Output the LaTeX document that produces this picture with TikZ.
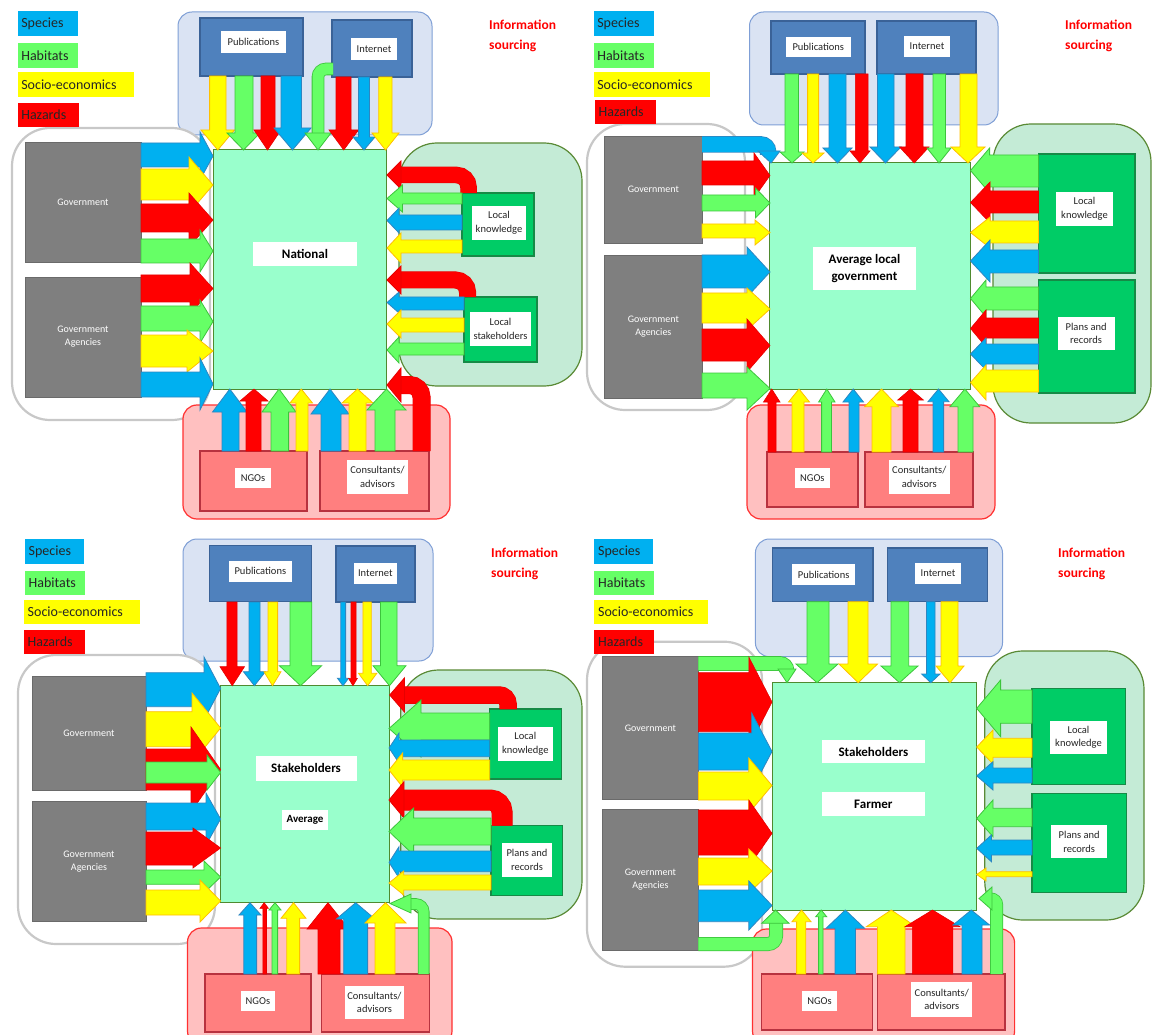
\documentclass[tikz,border=0pt]{standalone}
\usepackage{fontspec}
\setmainfont{Carlito}
\definecolor{cB}{HTML}{00B0F0}
\definecolor{cBd}{HTML}{2E86C1}
\definecolor{cG}{HTML}{66FF66}
\definecolor{cGd}{HTML}{3CC43C}
\definecolor{cY}{HTML}{FFFF00}
\definecolor{cYd}{HTML}{FFC000}
\definecolor{cR}{HTML}{FF0000}
\definecolor{cRd}{HTML}{E60000}
\definecolor{ctr}{HTML}{99FFCC}
\definecolor{ctrd}{HTML}{4F8A2F}
\definecolor{topbg}{HTML}{DAE3F3}
\definecolor{topbd}{HTML}{7F9FD6}
\definecolor{pub}{HTML}{4F81BD}
\definecolor{pubd}{HTML}{3A6297}
\definecolor{leftbd}{HTML}{C8C8C8}
\definecolor{gov}{HTML}{7F7F7F}
\definecolor{govd}{HTML}{6A6A6A}
\definecolor{rbg}{HTML}{C4EBD6}
\definecolor{rbd}{HTML}{5A8A35}
\definecolor{loc}{HTML}{00CC66}
\definecolor{locd}{HTML}{168A46}
\definecolor{bbg}{HTML}{FFC0C0}
\definecolor{bbd}{HTML}{FF3030}
\definecolor{ngo}{HTML}{FF7F7F}
\definecolor{ngod}{HTML}{B8323F}
\definecolor{txt}{HTML}{262626}
\tikzset{
 aB/.style={fill=cB,draw=cBd,line width=0.8pt},
 aG/.style={fill=cG,draw=cGd,line width=0.8pt},
 aY/.style={fill=cY,draw=cYd,line width=0.8pt},
 aR/.style={fill=cR,draw=cRd,line width=0.6pt},
 grpT/.style={rectangle,fill=topbg,draw=topbd,line width=1pt,rounded corners=14pt},
 grpL/.style={rectangle,fill=white,draw=leftbd,line width=2.2pt,rounded corners=38pt},
 grpR/.style={rectangle,fill=rbg,draw=rbd,line width=1.2pt,rounded corners=38pt},
 grpB/.style={rectangle,fill=bbg,draw=bbd,line width=1.2pt,rounded corners=14pt},
 pubbox/.style={rectangle,fill=pub,draw=pubd,line width=1.2pt},
 govbox/.style={rectangle,fill=gov,draw=govd,line width=0.8pt,text=white,font=\fontsize{10}{13}\selectfont,align=center},
 locbox/.style={rectangle,fill=loc,draw=locd,line width=1.2pt},
 ngobox/.style={rectangle,fill=ngo,draw=ngod,line width=1.2pt},
 lbl/.style={rectangle,fill=white,draw=none,font=\fontsize{10.5}{13.5}\selectfont,text=txt,align=center},
 ctrbox/.style={rectangle,fill=ctr,draw=ctrd,line width=1pt},
 ctrlbl/.style={rectangle,fill=white,draw=none,font=\bfseries\fontsize{13}{17}\selectfont,text=black,align=center},
 legtxt/.style={inner sep=0pt,font=\fontsize{14}{16}\selectfont,text=txt},
 info/.style={inner sep=0pt,font=\bfseries\fontsize{13.5}{20}\selectfont,text=cR,align=left},
}
% box node from corners
\newcommand{\bx}[7]{%
 \pgfmathsetmacro{\bxw}{(#5)-(#3)}%
 \pgfmathsetmacro{\bxh}{(#6)-(#4)}%
 \pgfmathsetmacro{\bxx}{((#3)+(#5))/2}%
 \pgfmathsetmacro{\bxy}{((#4)+(#6))/2}%
 \node[#2,minimum width=\bxw pt,minimum height=\bxh pt,inner sep=0pt,outer sep=0pt] (#1) at (\bxx,\bxy) {#7};}
\newcommand{\legbox}[7]{%
 \bx{#1}{rectangle,fill=#2,draw=none}{#3}{#4}{#5}{#6}{}%
 \pgfmathsetmacro{\lgx}{#3+3.5}\pgfmathsetmacro{\lgy}{((#4)+(#6))/2}%
 \node[legtxt,anchor=west] (#1t) at (\lgx,\lgy) {#7};}
% horizontal block arrow: style, x0, head base x, tip x, shaft y1, y2, head y1, y2
\newcommand{\hArrow}[8]{%
 \path[#1] (#2,#5) -- (#3,#5) -- (#3,#7) -- (#4,{(#7+#8)/2}) -- (#3,#8) -- (#3,#6) -- (#2,#6) -- cycle;}
% vertical block arrow: style, y0, head base y, tip y, shaft x1, x2, head x1, x2
\newcommand{\vArrow}[8]{%
 \path[#1] (#5,#2) -- (#5,#3) -- (#7,#3) -- ({(#7+#8)/2},#4) -- (#8,#3) -- (#6,#3) -- (#6,#2) -- cycle;}
% bent arrow: fill, border, width, border width, radius, path, head
\newcommand{\bArrow}[7]{%
 \draw[#2,line width=#4pt,rounded corners=#5pt] #6;
 \draw[#1,line width=#3pt,rounded corners=#5pt] #6;
 \filldraw[fill=#1,draw=#2,line width=0.8pt] #7 -- cycle;}
\begin{document}
\begin{tikzpicture}[x=1pt,y=-1pt]
\useasboundingbox (0,0) rectangle (1152,1035);
\fill[white] (0,0) rectangle (1152,1035);
%================ PANEL 1 =================
\bx{p1T}{grpT}{178}{12}{432}{135}{}
\bx{p1L}{grpL}{12}{128}{210}{420}{}
\bx{p1R}{grpR}{399}{143}{582}{386}{}
\bx{p1B}{grpB}{183}{405}{450}{519}{}
\legbox{p1s}{cB}{17.6}{11}{78}{36}{Species}
\legbox{p1h}{cG}{17.6}{43}{78}{68}{Habitats}
\legbox{p1e}{cY}{17.6}{72}{133.5}{97}{Socio-economics}
\legbox{p1z}{cR}{17.6}{103}{79}{127}{Hazards}
\node[info,anchor=west] (p1i) at (489,36) {Information\\sourcing};
\bx{p1pub}{pubbox}{200}{18}{303}{76}{}
\bx{p1publ}{lbl}{221}{31}{286}{53}{Publications}
\bx{p1int}{pubbox}{332}{20}{412}{77}{}
\bx{p1intl}{lbl}{351}{38}{397}{60}{Internet}
\bx{p1gov}{govbox}{25}{142}{141}{262}{Government}
\bx{p1aga}{govbox}{25}{277}{141}{397}{Government\\Agencies}
\bx{p1lk}{locbox}{462}{193}{534}{256}{}
\bx{p1lkl}{lbl}{472}{206}{526}{240}{Local\\knowledge}
\bx{p1ls}{locbox}{464}{297}{537}{362}{}
\bx{p1lsl}{lbl}{470}{312}{531}{346}{Local\\stakeholders}
\bx{p1ngo}{ngobox}{200}{451}{307}{511}{}
\bx{p1ngol}{lbl}{235}{468}{271}{488}{NGOs}
\bx{p1con}{ngobox}{320}{451}{429}{511}{}
\bx{p1conl}{lbl}{347}{460}{408}{494}{Consultants/\\advisors}
\bx{p1c}{ctrbox}{213}{150}{386}{389}{}
\bx{p1cl}{ctrlbl}{253}{242}{357}{266}{National}
% top
\vArrow{aY}{76}{130}{150}{209.6}{226}{201}{234.5}
\vArrow{aG}{76}{133}{150}{235}{253}{227}{260}
\vArrow{aR}{76}{130}{150}{261}{275}{254}{281}
\vArrow{aB}{76}{128}{150}{281}{301.5}{274}{311}
\bArrow{cG}{cGd}{11}{12.6}{8}{(333,69) -- (318,69) -- (318,135)}{(305,133) -- (331,133) -- (318,150)}
\vArrow{aR}{77}{130}{150}{336}{351}{329}{358.5}
\vArrow{aB}{77}{137}{150}{358.5}{369.5}{353}{375}
\vArrow{aY}{77}{133}{150}{378.7}{392}{372}{399}
% left
\hArrow{aB}{141}{200}{213}{143}{167}{132}{180}
\hArrow{aY}{141}{189}{213}{169}{200}{157}{213}
\hArrow{aR}{141}{189}{213}{204}{232}{193}{247}
\hArrow{aG}{141}{200}{213}{239}{263}{230}{272}
\hArrow{aR}{141}{190}{213}{275}{302}{263}{314}
\hArrow{aG}{141}{200}{213}{306}{331}{300}{343}
\hArrow{aY}{141}{187}{213}{335}{367}{330}{372}
\hArrow{aB}{141}{200}{213}{372}{397}{358}{410}
% right
\bArrow{cR}{cRd}{15.5}{16.5}{12}{(468.5,193) -- (468.5,175) -- (400,175)}{(401,161) -- (387,175) -- (401,189)}
\hArrow{aG}{462}{402.5}{387}{193}{204}{185}{212}
\hArrow{aB}{462}{399}{387}{215}{230}{208}{233}
\hArrow{aY}{462}{401}{387}{240}{253}{233}{263}
\bArrow{cR}{cRd}{16}{17}{12}{(467.5,297) -- (467.5,280) -- (400,280)}{(401,266) -- (387,280) -- (401,294)}
\hArrow{aB}{464}{399}{387}{297}{310}{292}{313}
\hArrow{aY}{464}{401}{387}{318}{332}{310}{338}
\hArrow{aG}{464}{399}{387}{343}{355}{337}{363}
% bottom
\vArrow{aB}{451}{412}{389}{222}{239}{212.5}{247}
\vArrow{aR}{451}{401}{389}{246}{261}{240}{268}
\vArrow{aG}{451}{412}{389}{271}{288.6}{262}{296}
\vArrow{aY}{451}{403}{389}{296}{308}{290}{312.5}
\vArrow{aB}{451}{414}{389}{321}{341}{311}{349}
\vArrow{aY}{451}{403}{389}{349}{366}{342}{373}
\vArrow{aG}{451}{410}{389}{375}{395}{367}{406}
\bArrow{cR}{cRd}{17}{18}{12}{(421.5,451) -- (421.5,385) -- (400,385)}{(401,368) -- (387,385) -- (401,402)}
%================ PANEL 2 =================
\bx{p2T}{grpT}{749.5}{12}{998}{125}{}
\bx{p2L}{grpL}{587}{124}{745}{410}{}
\bx{p2R}{grpR}{993}{124}{1151}{423}{}
\bx{p2B}{grpB}{747}{405}{995}{519}{}
\legbox{p2s}{cB}{593.6}{11}{654}{36}{Species}
\legbox{p2h}{cG}{593.6}{43}{654}{68}{Habitats}
\legbox{p2e}{cY}{593.6}{72}{709.5}{97}{Socio-economics}
\legbox{p2z}{cR}{595}{100}{656}{124}{Hazards}
\node[info,anchor=west] (p2i) at (1065,36) {Information\\sourcing};
\bx{p2pub}{pubbox}{771}{21}{865}{74}{}
\bx{p2publ}{lbl}{786}{37}{850.6}{57}{Publications}
\bx{p2int}{pubbox}{877}{21}{976}{74}{}
\bx{p2intl}{lbl}{904}{36}{950}{57}{Internet}
\bx{p2gov}{govbox}{604.7}{136}{702}{243}{Government}
\bx{p2aga}{govbox}{604.7}{255}{702}{398}{Government\\Agencies}
\bx{p2lk}{locbox}{1038.5}{154}{1135}{273}{}
\bx{p2lkl}{lbl}{1056}{192}{1113}{226}{Local\\knowledge}
\bx{p2pr}{locbox}{1038.5}{280}{1135}{393}{}
\bx{p2prl}{lbl}{1057.6}{317}{1114.6}{350}{Plans and\\records}
\bx{p2ngo}{ngobox}{767}{452}{858}{507}{}
\bx{p2ngol}{lbl}{795}{468}{829.7}{488}{NGOs}
\bx{p2con}{ngobox}{865}{452}{973}{507}{}
\bx{p2conl}{lbl}{888.5}{460}{950}{494}{Consultants/\\advisors}
\bx{p2c}{ctrbox}{769.7}{163}{970.5}{389}{}
\bx{p2cl}{ctrlbl}{813}{247}{916}{290}{Average local\\government}
% top
\vArrow{aG}{74}{152}{163}{785}{798.4}{780}{804}
\vArrow{aY}{74}{153}{163}{807.6}{818.6}{802}{824}
\vArrow{aB}{74}{148}{163}{829}{846}{823}{852}
\vArrow{aR}{74}{151}{163}{855.4}{868}{850}{870}
\vArrow{aB}{74}{147}{163}{877.5}{894}{870}{901}
\vArrow{aR}{74}{147}{163}{906}{923}{899.5}{929}
\vArrow{aG}{74}{148}{163}{933}{945.5}{927}{951}
\vArrow{aY}{74}{147}{163}{960}{977}{951}{985}
% left
\bArrow{cB}{cBd}{15}{16.5}{7}{(702,144.5) -- (768,144.5) -- (768,155)}{(758,151) -- (780,151) -- (771,163)}
\hArrow{aR}{702}{754}{770}{161}{185}{153}{198}
\hArrow{aG}{702}{755.4}{770}{195}{211}{188}{218}
\hArrow{aY}{702}{755}{770}{224}{238}{220}{245}
\hArrow{aB}{702}{747}{770}{255}{288}{247}{297}
\hArrow{aY}{702}{747}{770}{293}{323}{288}{330}
\hArrow{aR}{702}{747}{770}{329}{361}{319}{372}
\hArrow{aG}{702}{747}{770}{373}{398}{367}{410}
% right
\hArrow{aG}{1038.5}{989.6}{970.5}{155}{187}{148}{193}
\hArrow{aR}{1038.5}{990}{970.5}{191}{213}{182}{223}
\hArrow{aY}{1038.5}{990}{970.5}{221}{243}{217}{248}
\hArrow{aB}{1038.5}{990}{970.5}{250}{273}{240}{282}
\hArrow{aG}{1038.5}{986}{970.5}{287}{310}{280}{317}
\hArrow{aR}{1038.5}{986}{970.5}{318}{338}{310}{347}
\hArrow{aB}{1038.5}{986}{970.5}{344}{364}{338}{370}
\hArrow{aY}{1038.5}{986}{970.5}{370}{392}{365}{400}
% bottom
\vArrow{aR}{452}{402}{389}{768}{776}{763.5}{780}
\vArrow{aY}{452}{402}{389}{792}{804}{788.5}{809.5}
\vArrow{aG}{452}{402}{389}{821.6}{831.5}{818.6}{835}
\vArrow{aB}{452}{402}{389}{849}{859}{843}{863.5}
\vArrow{aY}{452}{406.7}{389}{872}{891}{864.6}{898.4}
\vArrow{aR}{452}{400}{389}{903}{918}{897.7}{923.4}
\vArrow{aB}{452}{401.7}{389}{933}{943.6}{928}{949}
\vArrow{aG}{452}{406.7}{389}{958}{973}{950}{979.7}
%================ PANEL 3 =================
\bx{p3T}{grpT}{183}{539}{433}{661}{}
\bx{p3L}{grpL}{18}{655}{215}{944}{}
\bx{p3R}{grpR}{400.7}{670}{582}{919}{}
\bx{p3B}{grpB}{187.5}{928}{452}{1045}{}
\legbox{p3s}{cB}{25}{539}{84}{564}{Species}
\legbox{p3h}{cG}{25}{571}{84.6}{595}{Habitats}
\legbox{p3e}{cY}{24}{600}{140}{624}{Socio-economics}
\legbox{p3z}{cR}{24}{630}{85}{654}{Hazards}
\node[info,anchor=west] (p3i) at (491,564) {Information\\sourcing};
\bx{p3pub}{pubbox}{209.6}{545.7}{311.8}{601.7}{}
\bx{p3publ}{lbl}{228.7}{560.7}{292}{582}{Publications}
\bx{p3int}{pubbox}{336}{546}{415}{602}{}
\bx{p3intl}{lbl}{353.7}{562.7}{397}{584}{Internet}
\bx{p3gov}{govbox}{32}{676}{146}{790}{Government}
\bx{p3aga}{govbox}{32}{801}{146}{921.7}{Government\\Agencies}
\bx{p3lk}{locbox}{489.7}{709}{561.4}{779}{}
\bx{p3lkl}{lbl}{498}{727}{552.6}{760.7}{Local\\knowledge}
\bx{p3pr}{locbox}{491}{825.7}{562.5}{895.7}{}
\bx{p3prl}{lbl}{502}{843}{552}{877}{Plans and\\records}
\bx{p3ngo}{ngobox}{205}{974}{311}{1032}{}
\bx{p3ngol}{lbl}{240.8}{991}{275}{1011}{NGOs}
\bx{p3con}{ngobox}{321.7}{974}{429.4}{1032}{}
\bx{p3conl}{lbl}{344.5}{985.7}{404.4}{1019}{Consultants/\\advisors}
\bx{p3c}{ctrbox}{220.6}{685.7}{389}{902.7}{}
\bx{p3cl}{ctrlbl}{255.5}{756}{356.6}{780.7}{Stakeholders}
\bx{p3cl2}{ctrlbl,font=\bfseries\fontsize{11}{13}\selectfont}{282}{810}{328}{830}{Average}
% top
\vArrow{aR}{602}{666.7}{685.7}{226.8}{237}{220}{244.5}
\vArrow{aB}{602}{671.7}{685.7}{249}{260}{243.4}{265.4}
\vArrow{aY}{602}{671.7}{685.7}{268}{277.6}{264}{281}
\vArrow{aG}{602}{665.7}{685.7}{290}{311.8}{279.4}{321.7}
\vArrow{aB}{602}{678.3}{685.7}{340.8}{345.6}{337.5}{348.5}
\vArrow{aR}{602}{678.3}{685.7}{351}{356}{348.5}{357.4}
\vArrow{aY}{602}{673.3}{685.7}{362.9}{371.3}{358.5}{376.8}
\vArrow{aG}{602}{665.7}{685.7}{380.5}{397}{373}{406}
% left
\hArrow{aB}{146}{204}{220.6}{672.7}{706.7}{657}{720}
\hArrow{aY}{146}{192}{220.6}{711.7}{746.7}{693}{763}
\hArrow{aR}{146}{191}{220.6}{749}{790}{727}{812}
\hArrow{aG}{146}{207}{220.6}{762}{783}{755}{790}
\hArrow{aB}{146}{206}{220.6}{803}{830}{793}{845}
\hArrow{aR}{146}{193}{220.6}{832}{865}{828}{868}
\hArrow{aG}{146}{204}{220.6}{870}{884.3}{861}{893}
\hArrow{aY}{146}{200}{220.6}{890}{915}{880}{922}
% right
\bArrow{cR}{cRd}{16.5}{17.5}{9}{(508,709) -- (508,695) -- (403,695)}{(404.4,678) -- (389.7,695) -- (404.4,712)}
\hArrow{aG}{489.7}{421}{389}{713}{740}{700}{757}
\hArrow{aB}{489.7}{399}{389}{740}{756.7}{733}{763}
\hArrow{aY}{489.7}{402.6}{389}{760}{780}{753}{787}
\bArrow{cR}{cRd}{20}{21}{12}{(502,825.7) -- (502,800) -- (403,800)}{(404,781.7) -- (389,800) -- (404,818)}
\hArrow{aG}{491}{413.6}{389}{818}{845}{808}{855}
\hArrow{aB}{491}{399}{389}{851}{871.7}{846.7}{878}
\hArrow{aY}{491}{403.7}{389}{875}{890}{871}{895}
% bottom
\vArrow{aB}{974}{915}{902.7}{243.8}{256.6}{239}{261}
\vArrow{aR}{974}{908.3}{902.7}{262.9}{266.5}{260}{268.4}
\vArrow{aG}{974}{910}{902.7}{272}{277.6}{269}{281}
\vArrow{aY}{974}{918.3}{902.7}{286.8}{299.6}{281}{306}
\vArrow{aR}{974}{929}{902.7}{318}{340}{307}{349}
\vArrow{aB}{974}{919}{902.7}{343.7}{367.6}{336.4}{375}
\vArrow{aY}{974}{923}{902.7}{375}{395}{365}{406}
\bArrow{cG}{cGd}{10}{11.6}{8}{(423.7,974) -- (423.7,904) -- (409,904)}{(411,894) -- (390,903.5) -- (411,913)}
%================ PANEL 4 =================
\bx{p4T}{grpT}{755.4}{539}{1002.5}{656.7}{}
\bx{p4L}{grpL}{587}{641.7}{762}{966.7}{}
\bx{p4R}{grpR}{984.8}{651}{1144}{920}{}
\bx{p4B}{grpB}{752.5}{929}{1014.6}{1045}{}
\legbox{p4s}{cB}{594.4}{539.3}{653}{564}{Species}
\legbox{p4h}{cG}{594.4}{570.7}{653.6}{595}{Habitats}
\legbox{p4e}{cY}{594.4}{600}{708}{624}{Socio-economics}
\legbox{p4z}{cR}{594.4}{630}{654}{654}{Hazards}
\node[info,anchor=west] (p4i) at (1058,564) {Information\\sourcing};
\bx{p4pub}{pubbox}{772.7}{548}{873}{601.7}{}
\bx{p4publ}{lbl}{791.8}{564}{855.4}{585}{Publications}
\bx{p4int}{pubbox}{887.4}{548}{987.8}{601.7}{}
\bx{p4intl}{lbl}{915}{563}{961}{584}{Internet}
\bx{p4gov}{govbox}{602.5}{656.7}{698.4}{799.3}{Government}
\bx{p4aga}{govbox}{602.5}{809}{698.4}{950}{Government\\Agencies}
\bx{p4lk}{locbox}{1032}{688.3}{1125.6}{784.3}{}
\bx{p4lkl}{lbl}{1050}{720.7}{1107}{754.3}{Local\\knowledge}
\bx{p4pr}{locbox}{1032}{793.3}{1126.7}{892.3}{}
\bx{p4prl}{lbl}{1051.4}{825}{1107}{858.3}{Plans and\\records}
\bx{p4ngo}{ngobox}{761.7}{974}{872.7}{1030}{}
\bx{p4ngol}{lbl}{802}{991}{837}{1011}{NGOs}
\bx{p4con}{ngobox}{877.5}{974}{1005}{1030}{}
\bx{p4conl}{lbl}{911.3}{982.3}{972.3}{1016.7}{Consultants/\\advisors}
\bx{p4c}{ctrbox}{772}{682.7}{976.7}{910}{}
\bx{p4cl}{ctrlbl}{822.3}{740}{924.5}{763.3}{Stakeholders}
\bx{p4cl2}{ctrlbl}{822.3}{792.3}{924.5}{816}{Farmer}
% top
\vArrow{aG}{601.7}{664}{682.7}{807}{829}{796}{838}
\vArrow{aY}{601.7}{664}{682.7}{848}{868}{839}{877.5}
\vArrow{aG}{601.7}{666}{682.7}{891}{908.7}{881}{918}
\vArrow{aB}{601.7}{674}{682.7}{926.4}{935}{921.6}{940}
\vArrow{aY}{601.7}{666}{682.7}{941}{958}{936}{964}
% left
\bArrow{cG}{cGd}{13}{14.6}{7}{(698.4,663.5) -- (787,663.5) -- (787,672)}{(778,669) -- (796,669) -- (787,682.7)}
\hArrow{aR}{698.4}{748.8}{772}{672.7}{731.7}{657}{747}
\hArrow{aB}{698.4}{751.7}{772}{733}{770}{713}{790}
\hArrow{aY}{698.4}{748.8}{772}{772}{800}{758}{813}
\hArrow{aR}{698.4}{748.8}{772}{810}{855}{800}{866.7}
\hArrow{aY}{698.4}{748.8}{772}{858}{885}{849}{893}
\hArrow{aB}{698.4}{748.8}{772}{890}{921.7}{881}{930}
\bArrow{cG}{cGd}{12.5}{14}{8}{(698.4,944) -- (776,944) -- (776,922)}{(761.7,923.3) -- (789,923.3) -- (775.5,910)}
% right
\hArrow{aG}{1032}{1000.6}{976.7}{690}{723.3}{680}{736.7}
\hArrow{aY}{1032}{993}{976.7}{738.3}{757.3}{730}{764}
\hArrow{aB}{1032}{993}{976.7}{768}{783}{761.7}{790}
\hArrow{aG}{1032}{993}{976.7}{808.3}{826.7}{800}{836.7}
\hArrow{aB}{1032}{991.4}{976.7}{840}{855}{835}{861.7}
\hArrow{aY}{1032}{986}{976.7}{871.7}{876.7}{868}{881}
\bArrow{cG}{cGd}{11.5}{13}{6}{(996.6,974) -- (996.6,899) -- (987,899)}{(992,887) -- (979,898.5) -- (992,910)}
% bottom
\vArrow{aY}{974}{921.7}{910}{796.6}{805.8}{792}{811}
\vArrow{aG}{974}{916.7}{910}{818.6}{823}{815.7}{826.7}
\vArrow{aB}{974}{928.3}{910}{835}{855.4}{826}{864.6}
\vArrow{aY}{974}{926.7}{910}{877.5}{905}{866.4}{916}
\vArrow{aR}{974}{926.7}{910}{912.4}{952.8}{905}{960}
\vArrow{aB}{974}{925}{910}{962}{982}{953}{989.6}
\end{tikzpicture}
\end{document}
